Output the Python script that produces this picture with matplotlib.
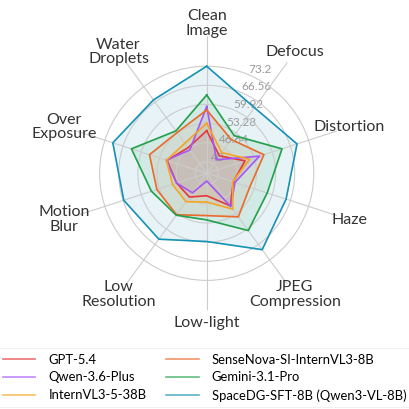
import numpy as np
import matplotlib
matplotlib.use("Agg")
import matplotlib.pyplot as plt

plt.rcParams['font.family'] = ['Lato', 'DejaVu Sans']

# categories (clockwise from top)
categories = ["Clean\nImage", "Defocus", "Distortion", "Haze", "JPEG\nCompression",
              "Low-light", "Low\nResolution", "Motion\nBlur", "Over\nExposure", "Water\nDroplets"]

models = ["GPT-5.4", "Qwen-3.6-Plus", "InternVL3-5-38B",
          "SenseNova-SI-InternVL3-8B", "Gemini-3.1-Pro", "SpaceDG-SFT-8B (Qwen3-VL-8B)"]
colors = ["#e5383b", "#a855f7", "#f5a524", "#ea6a2a", "#22a04b", "#1692b5"]

gpt = [50.8, 43.5, 50.0, 45.7, 50.0, 43.8, 46.2, 47.0, 50.5, 47.0]
qwen = [59.2, 41.8, 55.3, 46.3, 50.3, 38.7, 44.4, 47.0, 50.8, 46.0]
internvl = [53.4, 44.9, 51.7, 45.5, 51.4, 46.0, 48.2, 48.5, 50.7, 48.9]
sensenova = [58.0, 50.5, 56.9, 51.7, 54.7, 50.7, 53.8, 54.2, 56.9, 53.5]
gemini = [63.2, 52.2, 63.5, 58.1, 60.6, 52.2, 54.0, 56.2, 63.5, 54.2]
spacedg = [73.2, 64.2, 69.0, 65.0, 68.8, 59.7, 64.3, 66.3, 70.3, 67.5]

ring_ticks = [40, 46.64, 53.28, 59.92, 66.56, 73.2]
r_min, r_max = 36.0, 83.6
label_r = 88.1

series = [gpt, qwen, internvl, sensenova, gemini, spacedg]

n = len(categories)
angles = np.linspace(0, 2 * np.pi, n, endpoint=False)
closed = np.concatenate([angles, angles[:1]])

fig = plt.figure(figsize=(4.09, 4.09), dpi=100)
ax = fig.add_axes([0.1704, 0.2413, 0.670, 0.670], projection='polar')
ax.set_theta_offset(np.pi / 2)
ax.set_theta_direction(-1)
ax.set_ylim(r_min, r_max)

for name, vals, c in zip(models, series, colors):
    v = np.array(vals + vals[:1])
    ax.plot(closed, v, color=c, lw=1.2, label=name)
    ax.fill(closed, v, color=c, alpha=0.1)

ax.set_xticks(angles)
ax.set_xticklabels([])
for a, lab in zip(angles, categories):
    ax.text(a, label_r, lab, ha='center', va='center', fontsize=11.5,
            color='#333333', linespacing=1.05, clip_on=False)

ax.set_yticks(ring_ticks)
ax.set_yticklabels([f"{t:g}" for t in ring_ticks], fontsize=8.5, color='#999999')
ax.set_rlabel_position(23)
ax.grid(color='#cccccc', lw=0.8)
ax.spines['polar'].set_visible(False)
ax.set_facecolor('none')

leg = fig.legend(loc='lower center', ncol=2, bbox_to_anchor=(0.5, -0.005),
                 fontsize=9.4, frameon=True, handlelength=2.5, columnspacing=1.5,
                 labelspacing=0.45, handletextpad=1.0, borderaxespad=0.3)
leg.get_frame().set_edgecolor('#eeeeee')
leg.get_frame().set_linewidth(0.8)
for line in leg.get_lines():
    line.set_alpha(0.7)

fig.savefig("out.png", dpi=100)
